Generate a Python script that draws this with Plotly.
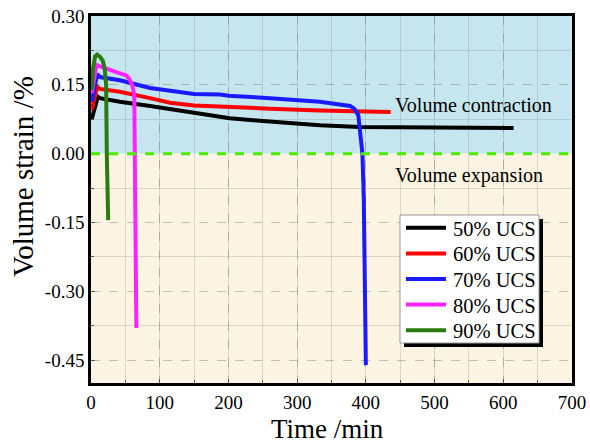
import plotly.graph_objects as go

# ---- data ----
t50 = [1, 10, 13, 42, 86, 115, 150, 188, 202, 250, 333, 391, 406, 500, 615]
v50 = [0.075, 0.124, 0.121, 0.113, 0.104, 0.097, 0.088, 0.079, 0.077, 0.071, 0.062, 0.058, 0.058, 0.057, 0.056]

t60 = [1, 9, 13, 42, 86, 115, 150, 188, 200, 260, 333, 406, 436]
v60 = [0.095, 0.146, 0.141, 0.135, 0.121, 0.111, 0.105, 0.102, 0.101, 0.098, 0.094, 0.091, 0.091]

t70 = [1, 9, 13, 42, 86, 115, 150, 188, 200, 250, 333, 377, 383, 389, 393, 395, 397, 400]
v70 = [0.113, 0.173, 0.167, 0.160, 0.143, 0.137, 0.130, 0.129, 0.126, 0.122, 0.113, 0.104, 0.098, 0.084, 0.03, 0.0, -0.10, -0.461]

t80 = [1, 8, 13, 28, 42, 52, 56, 60, 63, 64, 66]
v80 = [0.132, 0.193, 0.190, 0.182, 0.176, 0.170, 0.162, 0.150, 0.128, 0.0, -0.380]

t90 = [1, 3, 6, 9, 13, 17, 20, 22, 23, 25]
v90 = [0.139, 0.185, 0.212, 0.216, 0.211, 0.203, 0.185, 0.150, 0.0, -0.145]

series_names = ["50% UCS", "60% UCS", "70% UCS", "80% UCS", "90% UCS"]
series_colors = ["#000000", "#FF0000", "#1A1AFF", "#FF22FF", "#2A7A10"]

x_ticks = [0, 100, 200, 300, 400, 500, 600, 700]
x_ticklabels = ["0", "100", "200", "300", "400", "500", "600", "700"]
y_ticks = [0.30, 0.15, 0.00, -0.15, -0.30, -0.45]
y_ticklabels = ["0.30", "0.15", "0.00", "-0.15", "-0.30", "-0.45"]

x_range = [0, 700]
y_range = [-0.5, 0.3]

FONT = "Liberation Serif"

fig = go.Figure()

for t, v, name, col in zip([t50, t60, t70, t80, t90], [v50, v60, v70, v80, v90],
                           series_names, series_colors):
    fig.add_trace(go.Scatter(x=t, y=v, mode="lines", name=name, showlegend=False,
                             line=dict(color=col, width=4)))

# background regions (below grid)
fig.add_shape(type="rect", xref="x", yref="y", x0=x_range[0], x1=x_range[1],
              y0=0, y1=y_range[1], fillcolor="#C5E6EE", line_width=0, layer="below")
fig.add_shape(type="rect", xref="x", yref="y", x0=x_range[0], x1=x_range[1],
              y0=y_range[0], y1=0, fillcolor="#FCF4E2", line_width=0, layer="below")

# zero reference line
fig.add_shape(type="line", xref="x", yref="y", x0=x_range[0], x1=x_range[1],
              y0=0, y1=0, line=dict(color="#4CEB00", width=3, dash="dash"), layer="above")

# layout geometry in pixels
L, R, T, B = 91, 572, 16, 383
W, H = 590, 443
def px_x(p):
    return (p - L) / (R - L)
def px_y(p):
    return (B - p) / (B - T)

# legend box with drop shadow
LG_L, LG_R, LG_T, LG_B = 400, 539, 215, 343
fig.add_shape(type="rect", xref="paper", yref="paper",
              x0=px_x(LG_L + 4), x1=px_x(LG_R + 4), y0=px_y(LG_B + 4), y1=px_y(LG_T + 4),
              fillcolor="black", line_width=0, layer="above")
fig.add_shape(type="rect", xref="paper", yref="paper",
              x0=px_x(LG_L), x1=px_x(LG_R), y0=px_y(LG_B), y1=px_y(LG_T),
              fillcolor="white", line=dict(color="#999999", width=1), layer="above")
row_h = (LG_B - LG_T) / len(series_names)
for i, (name, col) in enumerate(zip(series_names, series_colors)):
    yc = LG_T + row_h * (i + 0.5)
    fig.add_shape(type="line", xref="paper", yref="paper",
                  x0=px_x(406), x1=px_x(446), y0=px_y(yc), y1=px_y(yc),
                  line=dict(color=col, width=4), layer="above")
    fig.add_annotation(x=px_x(451), y=px_y(yc + 1), xref="paper", yref="paper",
                       text=name, showarrow=False, xanchor="left", yanchor="middle",
                       font=dict(family=FONT, size=20.5, color="black"))

fig.add_annotation(x=439, y=0.106, xref="x", yref="y", text="Volume contraction",
                   showarrow=False, xanchor="left", yanchor="middle",
                   font=dict(family=FONT, size=20, color="black"))
fig.add_annotation(x=439, y=-0.047, xref="x", yref="y", text="Volume expansion",
                   showarrow=False, xanchor="left", yanchor="middle",
                   font=dict(family=FONT, size=20, color="black"))

# axis titles
fig.add_annotation(x=px_x(327), y=px_y(429), xref="paper", yref="paper",
                   text="Time /min", showarrow=False, xanchor="center", yanchor="middle",
                   font=dict(family=FONT, size=27, color="black"))
fig.add_annotation(x=px_x(23), y=px_y(177), xref="paper", yref="paper",
                   text="Volume strain /%", showarrow=False, textangle=-90,
                   xanchor="center", yanchor="middle",
                   font=dict(family=FONT, size=29, color="black"))

grid_minor = "rgba(110,110,100,0.22)"
grid_major = "rgba(110,110,100,0.40)"

fig.update_layout(
    width=W, height=H,
    margin=dict(l=L, r=W - R, t=T, b=H - B, autoexpand=False),
    paper_bgcolor="white", plot_bgcolor="rgba(0,0,0,0)",
    font=dict(family=FONT, size=19, color="black"),
    showlegend=False,
    xaxis=dict(range=x_range, tickvals=x_ticks, ticktext=x_ticklabels,
               ticks="inside", ticklen=4,
               tickcolor="#555", showline=True, linecolor="black", linewidth=2.5,
               mirror=True, showgrid=True, gridcolor=grid_major, griddash="dash",
               gridwidth=1, zeroline=False, automargin=False,
               tickfont=dict(family=FONT, size=19),
               minor=dict(dtick=50, showgrid=True, gridcolor=grid_minor,
                          griddash="solid", ticks="inside", ticklen=3, tickcolor="#555")),
    yaxis=dict(range=y_range, tickvals=y_ticks, ticktext=y_ticklabels,
               ticks="inside", ticklen=4, tickcolor="#555",
               showline=True, linecolor="black", linewidth=2.5, mirror=True,
               showgrid=True, gridcolor=grid_major, griddash="dash", gridwidth=1,
               zeroline=False, automargin=False, tickfont=dict(family=FONT, size=19),
               minor=dict(tickvals=[0.225, 0.075, -0.075, -0.225, -0.375], showgrid=True,
                          gridcolor=grid_minor, griddash="solid", ticks="inside",
                          ticklen=3, tickcolor="#555")),
)

fig.write_html("out.html", config={"displayModeBar": False},
               post_script="document.body.style.margin='0px';")
